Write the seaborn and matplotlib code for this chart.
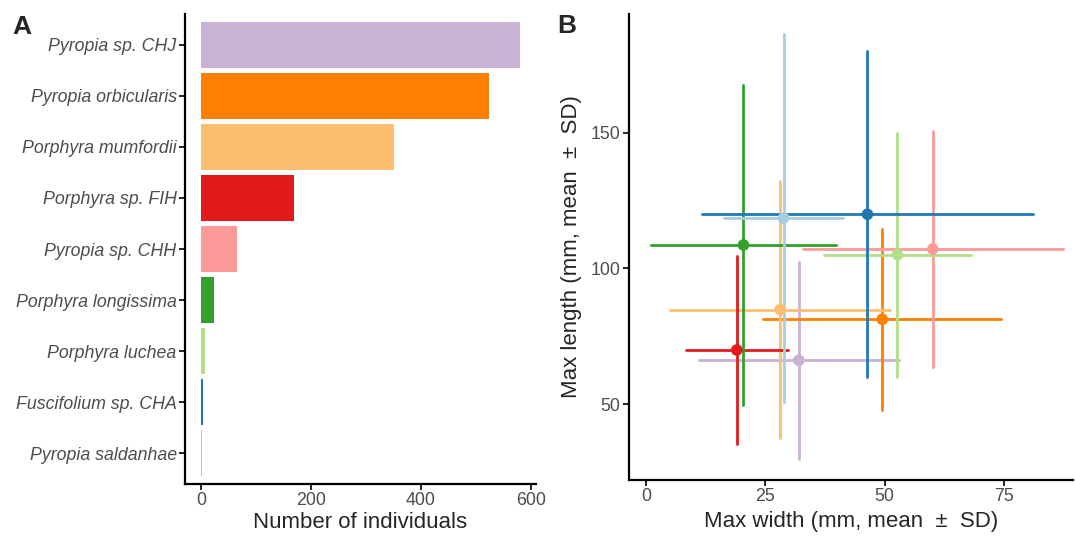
"""Two-panel figure: individuals per species (A) and size mean +- SD (B)."""
import numpy as np
import pandas as pd
import matplotlib
matplotlib.use('Agg')
import matplotlib.pyplot as plt
import seaborn as sns

sns.set_theme(style='ticks')
plt.rcParams['font.family'] = ['Liberation Sans', 'DejaVu Sans']

# ---- data ----
species = ['Pyropia sp. CHJ', 'Pyropia orbicularis', 'Porphyra mumfordii',
           'Porphyra sp. FIH', 'Pyropia sp. CHH', 'Porphyra longissima',
           'Porphyra luchea', 'Fuscifolium sp. CHA', 'Pyropia saldanhae']
counts = [580, 523, 351, 170, 65, 23, 7, 4, 2]
colors = ['#cab2d6', '#ff7f00', '#fdbf6f', '#e31a1c', '#fb9a99',
          '#33a02c', '#b2df8a', '#1f78b4', '#a6cee3']
width_mean = [32.0, 49.5, 28.1, 19.0, 60.1, 20.4, 52.7, 46.4, 28.8]
width_sd = [21.0, 24.9, 23.1, 10.7, 27.2, 19.4, 15.5, 34.7, 12.4]
length_mean = [66.1, 81.2, 84.8, 69.9, 107.1, 108.6, 105.0, 119.9, 118.5]
length_sd = [36.4, 33.3, 47.5, 34.7, 43.4, 59.0, 45.0, 60.0, 67.8]

pal = dict(zip(species, colors))
df = pd.DataFrame({'species': species, 'n': counts,
                   'w': width_mean, 'wsd': width_sd,
                   'l': length_mean, 'lsd': length_sd})

TXT = '#4d4d4d'
fig = plt.figure(figsize=(10.75, 5.36), dpi=100)
axA = fig.add_axes([185/1075, 52/536, 351/1075, 470/536])
axB = fig.add_axes([629/1075, 56/536, 444/1075, 466/536])

# ---- panel A ----
sns.barplot(data=df, y='species', x='n', hue='species', palette=pal,
            order=species, width=0.9, orient='h', legend=False,
            saturation=1, edgecolor='none', linewidth=0, ax=axA)
axA.set_xlim(-29, 609)
axA.set_ylim(8.6, -0.6)
axA.set_xticks([0, 200, 400, 600])
axA.set_ylabel('')
axA.set_xlabel('Number of individuals', fontsize=16, labelpad=2)
for lab in axA.get_yticklabels():
    lab.set_fontstyle('italic')

# ---- panel B ----
for i, row in df.iterrows():
    axB.errorbar(row['w'], row['l'], xerr=row['wsd'], yerr=row['lsd'],
                 fmt='none', ecolor=colors[i], elinewidth=2, capsize=1,
                 capthick=2, zorder=2)
sns.scatterplot(data=df, x='w', y='l', hue='species', palette=pal,
                s=70, edgecolor='none', legend=False, zorder=3, ax=axB)
axB.set_xlim(-3.6, 89.5)
axB.set_ylim(22, 193.7)
axB.set_xticks([0, 25, 50, 75])
axB.set_yticks([50, 100, 150])
axB.set_xlabel('Max width (mm, mean  \u00b1  SD)', fontsize=16, labelpad=4)
axB.set_ylabel('Max length (mm, mean  \u00b1  SD)', fontsize=16, labelpad=6)

for ax in (axA, axB):
    sns.despine(ax=ax)
    ax.tick_params(labelsize=12.8, colors='black', labelcolor=TXT,
                   length=4, width=1.2, pad=2)
    for s in ('left', 'bottom'):
        ax.spines[s].set_linewidth(1.6)
        ax.spines[s].set_color('black')
    ax.grid(False)

fig.text(12/1075, 1 - 34/536, 'A', fontsize=19, fontweight='bold')
fig.text(557/1075, 1 - 33/536, 'B', fontsize=19, fontweight='bold')

fig.savefig('out.png', dpi=100)
